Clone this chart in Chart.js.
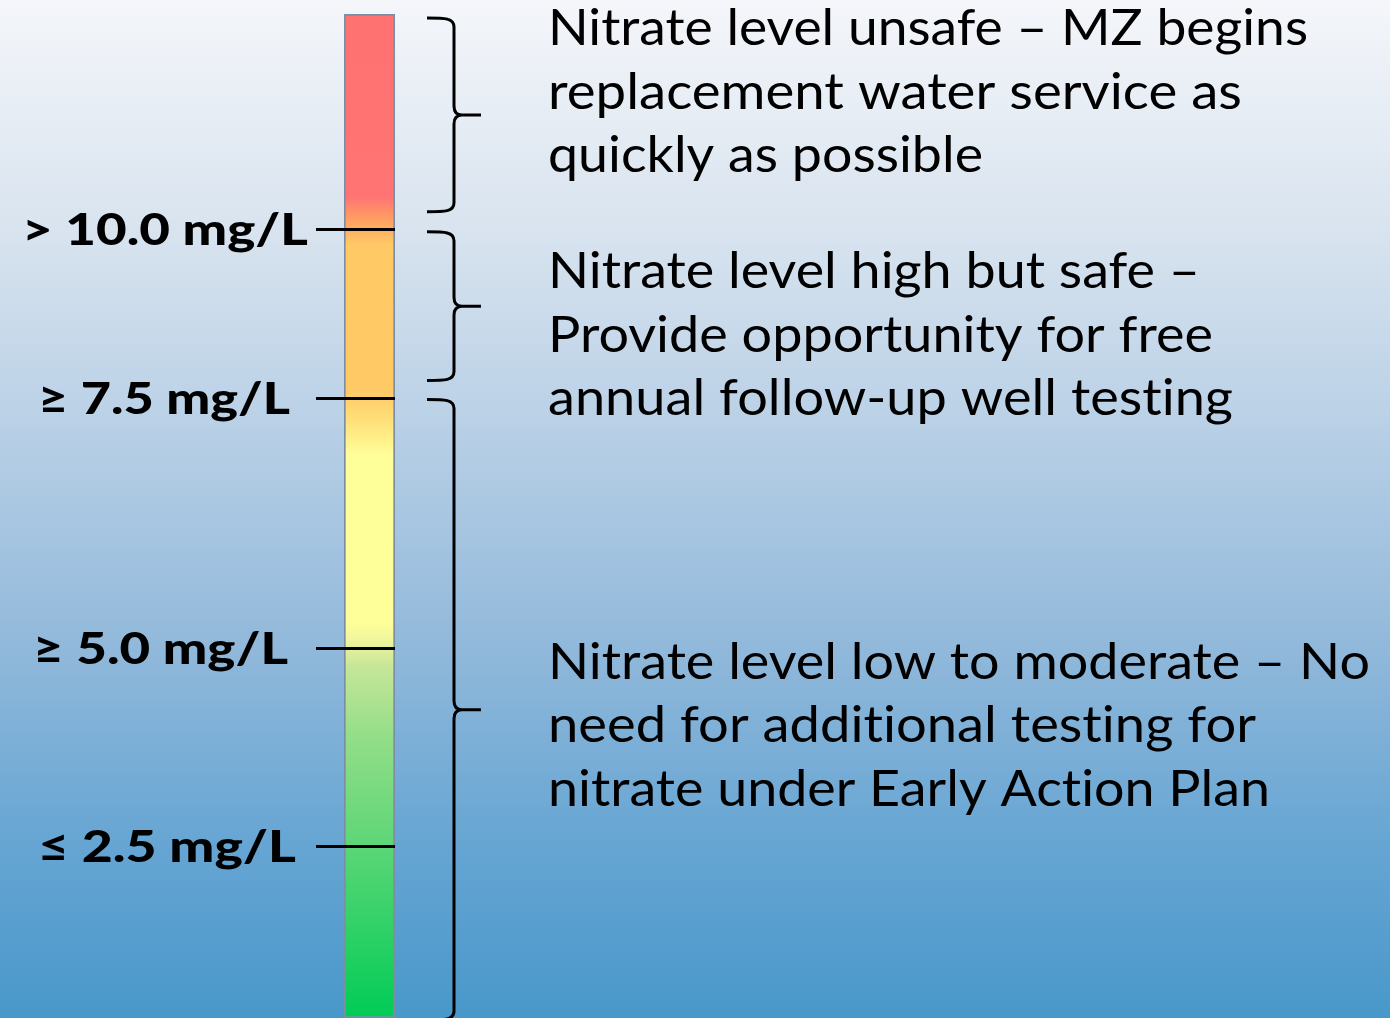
<!DOCTYPE html>
<html>
<head>
<meta charset="utf-8">
<script src="https://cdn.jsdelivr.net/npm/chart.js@4/dist/chart.umd.min.js"></script>
<style>
  html, body { margin: 0; padding: 0; background: #9fc2e0; }
  #wrap { width: 1390px; height: 1018px; }
</style>
</head>
<body>
<div id="wrap"><canvas id="c" width="1390" height="1018"></canvas></div>
<script>
// ---------- data (values on a 0–100 scale along the indicator bar) ----------
const categories = ['Nitrate'];
const barRange = [0, 100];
const thresholdLabels = ['> 10.0 mg/L', '≥ 7.5 mg/L', '≥ 5.0 mg/L', '≤ 2.5 mg/L'];
const thresholdPositions = [78.6, 61.8, 36.9, 17.1];
const braceRanges = [[80.3, 99.6], [63.5, 78.3], [-0.2, 61.6]];
const bandTexts = [
  ['Nitrate level unsafe – MZ begins', 'replacement water service as', 'quickly as possible'],
  ['Nitrate level high but safe –', 'Provide opportunity for free', 'annual follow-up well testing'],
  ['Nitrate level low to moderate – No', 'need for additional testing for', 'nitrate under Early Action Plan']
];
const bandTextPositions = [96.9, 72.7, 33.8];

// ---------- layout / style ----------
const labelLeftEdges = [22, 38, 33, 38];
const labelWidths = [286, 252, 255, 258];
const textLeft = 548;
const textWidths = [[760, 694, 435], [652, 665, 685], [822, 708, 722]];
const textLineHeight = 63.5;
const textCapHeight = 37;
const labelCapHeight = 32;

const bgPlugin = {
  id: 'bg',
  beforeDraw(chart) {
    const ctx = chart.ctx;
    const g = ctx.createLinearGradient(0, 0, 0, chart.height);
    g.addColorStop(0, '#f4f6fa');
    g.addColorStop(0.22, '#d9e4ef');
    g.addColorStop(0.40, '#bcd2e7');
    g.addColorStop(0.64, '#90b8da');
    g.addColorStop(0.83, '#66a5d3');
    g.addColorStop(1, '#4898ca');
    ctx.save();
    ctx.fillStyle = g;
    ctx.fillRect(0, 0, chart.width, chart.height);
    ctx.restore();
  }
};

function capAscent(ctx) {
  const m = ctx.measureText('H');
  return m.actualBoundingBoxAscent || 1;
}

function fitFont(ctx, family, weight, capH) {
  ctx.font = weight + ' 100px ' + family;
  const a = capAscent(ctx);
  return 100 * capH / a;
}

function drawFitted(ctx, text, x, baseline, width) {
  const w = ctx.measureText(text).width;
  const s = width / w;
  ctx.save();
  ctx.translate(x, baseline);
  ctx.scale(s, 1);
  ctx.fillText(text, 0, 0);
  ctx.restore();
}

const annotPlugin = {
  id: 'annot',
  afterDatasetsDraw(chart) {
    const ctx = chart.ctx;
    const y = chart.scales.y;
    const area = chart.chartArea;
    ctx.save();
    try { ctx.letterSpacing = '0.01px'; } catch (e) {}

    // threshold tick lines
    ctx.strokeStyle = '#000';
    ctx.lineWidth = 3;
    thresholdPositions.forEach(v => {
      const py = Math.round(y.getPixelForValue(v)) + 0.5;
      ctx.beginPath();
      ctx.moveTo(area.left - 28, py);
      ctx.lineTo(area.right, py);
      ctx.stroke();
    });

    // threshold labels (bold)
    const fam = 'Lato, "Open Sans", sans-serif';
    const lsz = fitFont(ctx, fam, '900', labelCapHeight);
    ctx.font = '900 ' + lsz.toFixed(1) + 'px ' + fam;
    ctx.fillStyle = '#000';
    ctx.textBaseline = 'alphabetic';
    ctx.textAlign = 'left';
    thresholdLabels.forEach((t, i) => {
      const py = y.getPixelForValue(thresholdPositions[i]) + labelCapHeight / 2;
      drawFitted(ctx, t, labelLeftEdges[i], py, labelWidths[i]);
    });

    // braces
    const x0 = 427, x1 = 454, x2 = 481, r = 9;
    ctx.lineWidth = 3;
    ctx.lineJoin = 'round';
    braceRanges.forEach(([lo, hi]) => {
      const yT = y.getPixelForValue(hi);
      const yB = y.getPixelForValue(lo);
      const yM = (yT + yB) / 2;
      ctx.beginPath();
      ctx.moveTo(x0, yT);
      ctx.bezierCurveTo(x0 + 18, yT, x1, yT, x1, yT + r);
      ctx.lineTo(x1, yM - r);
      ctx.quadraticCurveTo(x1, yM, x1 + 8, yM);
      ctx.lineTo(x2, yM);
      ctx.moveTo(x1 + 8, yM);
      ctx.quadraticCurveTo(x1, yM, x1, yM + r);
      ctx.lineTo(x1, yB - r);
      ctx.bezierCurveTo(x1, yB, x0 + 18, yB, x0, yB);
      ctx.stroke();
    });

    // band descriptions
    const tsz = fitFont(ctx, fam, 'normal', textCapHeight);
    ctx.font = 'normal ' + tsz.toFixed(1) + 'px ' + fam;
    bandTexts.forEach((lines, b) => {
      const base = y.getPixelForValue(bandTextPositions[b]);
      lines.forEach((line, i) => {
        drawFitted(ctx, line, textLeft, base + i * textLineHeight, textWidths[b][i]);
      });
    });

    ctx.restore();
  }
};

function makeGradient(context) {
  const chart = context.chart;
  const area = chart.chartArea;
  if (!area) return '#ffc966';
  const y = chart.scales.y;
  const g = chart.ctx.createLinearGradient(0, y.getPixelForValue(0), 0, y.getPixelForValue(100));
  const stops = [
    [0, '#00cc55'], [17.1, '#5cd677'], [28, '#93de88'], [35, '#c6e699'],
    [37.5, '#eef59c'], [39.5, '#ffff99'], [56, '#ffff99'], [59.5, '#ffe07a'],
    [62.5, '#ffc966'], [77, '#ffc966'], [79.5, '#ffa062'], [81.8, '#ff7474'], [100, '#ff7272']
  ];
  stops.forEach(([v, c]) => g.addColorStop(v / 100, c));
  return g;
}

function draw() {
  new Chart(document.getElementById('c'), {
    type: 'bar',
    data: {
      labels: categories,
      datasets: [{
        data: [barRange],
        backgroundColor: makeGradient,
        borderColor: '#7b8ea6',
        borderWidth: 2,
        borderSkipped: false,
        barPercentage: 1,
        categoryPercentage: 1
      }]
    },
    options: {
      responsive: false,
      animation: false,
      layout: { padding: { left: 344, right: 995, top: 14, bottom: 0 } },
      plugins: { legend: { display: false }, tooltip: { enabled: false } },
      scales: {
        x: { display: false },
        y: { display: false, min: 0, max: 100 }
      }
    },
    plugins: [bgPlugin, annotPlugin]
  });
}

const loads = [];
if (document.fonts && document.fonts.load) {
  loads.push(document.fonts.load('900 44px Lato').catch(() => {}));
  loads.push(document.fonts.load('bold 44px Lato').catch(() => {}));
  loads.push(document.fonts.load('52px Lato').catch(() => {}));
}
Promise.all(loads).then(draw, draw);
</script>
</body>
</html>
